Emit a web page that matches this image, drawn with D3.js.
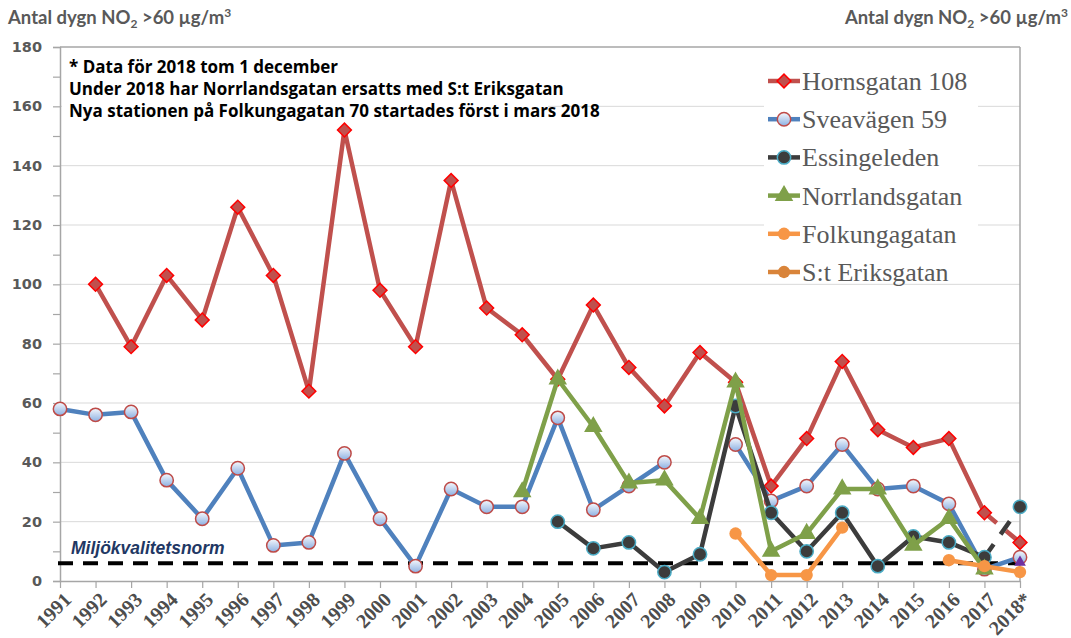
<!DOCTYPE html>
<html>
<head>
<meta charset="utf-8">
<script src="https://cdn.jsdelivr.net/npm/d3@7"></script>
<style>
  body { margin: 0; background: #fff; }
  svg { display: block; }
</style>
</head>
<body>
<div id="chart"></div>
<script>
// data (null = no value that year)
const years = ["1991", "1992", "1993", "1994", "1995", "1996", "1997", "1998", "1999", "2000",
  "2001", "2002", "2003", "2004", "2005", "2006", "2007", "2008", "2009", "2010",
  "2011", "2012", "2013", "2014", "2015", "2016", "2017", "2018*"];

const hornsgatan = [null, 100, 79, 103, 88, 126, 103, 64, 152, 98,
  79, 135, 92, 83, 68, 93, 72, 59, 77, 67,
  32, 48, 74, 51, 45, 48, 23, 13];

const sveavagen = [58, 56, 57, 34, 21, 38, 12, 13, 43, 21,
  5, 31, 25, 25, 55, 24, 32, 40, null, 46,
  27, 32, 46, 31, 32, 26, 4, 8];

const essingeleden = [null, null, null, null, null, null, null, null, null, null,
  null, null, null, null, 20, 11, 13, 3, 9, 59,
  23, 10, 23, 5, 15, 13, 8, 25];

const norrlandsgatan = [null, null, null, null, null, null, null, null, null, null,
  null, null, null, 30, 68, 52, 33, 34, 21, 67,
  10, 16, 31, 31, 12, 21, 4, null];

const folkungagatan = [null, null, null, null, null, null, null, null, null, null,
  null, null, null, null, null, null, null, null, null, 16,
  2, 2, 18, null, null, 7, 5, 3];

const stEriksgatan = years.map(() => null);

// extra purple marker at 2018*
const lilaMarkering = [{ year: "2018*", value: 7 }];

const normValue = 6;
const yTickValues = d3.range(0, 181, 10);

const titleLeft = "Antal dygn NO";
const notes = [
  "* Data för 2018 tom 1 december",
  "Under 2018 har Norrlandsgatan ersatts med S:t Eriksgatan",
  "Nya stationen på Folkungagatan 70 startades först i mars 2018",
];

const width = 1071, height = 638;
const plot = { left: 60, right: 1020, top: 47, bottom: 581 };

const svg = d3
  .select("#chart")
  .append("svg")
  .attr("width", width)
  .attr("height", height)
  .style("font-family", "'Liberation Sans', Arial, sans-serif");

const defs = svg.append("defs");
const grad = defs
  .append("linearGradient")
  .attr("id", "sveaGrad")
  .attr("x1", 0).attr("y1", 0).attr("x2", 0).attr("y2", 1);
grad.append("stop").attr("offset", "0%").attr("stop-color", "#f6f8fc");
grad.append("stop").attr("offset", "100%").attr("stop-color", "#8cb0e2");

const x = d3.scalePoint().domain(years).range([plot.left, plot.right]);
const y = d3.scaleLinear().domain([0, 180]).range([plot.bottom, plot.top]);

// gridlines every 20
svg
  .append("g")
  .selectAll("line")
  .data(d3.range(20, 181, 20))
  .join("line")
  .attr("x1", plot.left)
  .attr("x2", plot.right)
  .attr("y1", (d) => y(d))
  .attr("y2", (d) => y(d))
  .attr("stroke", (d) => (d === 180 ? "#a6a6a6" : "#d9d9d9"))
  .attr("stroke-width", (d) => (d === 180 ? 1.5 : 1));

// right border
svg
  .append("line")
  .attr("x1", plot.right)
  .attr("x2", plot.right)
  .attr("y1", y(180))
  .attr("y2", y(0))
  .attr("stroke", "#a6a6a6")
  .attr("stroke-width", 1.5);

// white text box and legend box cover the gridlines
svg.append("rect").attr("x", 62).attr("y", 50).attr("width", 486).attr("height", 78).attr("fill", "#fff");
svg.append("rect").attr("x", 764).attr("y", 50).attr("width", 214).attr("height", 233).attr("fill", "#fff");

// Y axis
const yAxis = d3
  .axisLeft(y)
  .tickValues(yTickValues)
  .tickSize(7)
  .tickPadding(11)
  .tickFormat((d) => (d % 20 === 0 ? d : ""));
const gy = svg.append("g").attr("transform", `translate(${plot.left},0)`).call(yAxis);
gy.select(".domain").attr("stroke", "#a6a6a6").attr("stroke-width", 1.5);
gy.selectAll(".tick line").attr("stroke", "#a6a6a6").attr("stroke-width", 1.2);
gy.selectAll(".tick text")
  .attr("fill", "#595959")
  .style("font-family", "'DejaVu Sans', Verdana, sans-serif")
  .style("font-weight", "bold")
  .style("font-size", "14.5px");

// X axis
const xAxis = d3.axisBottom(x).tickSize(7).tickSizeOuter(0);
const gx = svg.append("g").attr("transform", `translate(0,${plot.bottom})`).call(xAxis);
gx.select(".domain").attr("stroke", "#a6a6a6").attr("stroke-width", 1.5);
gx.selectAll(".tick line").attr("stroke", "#a6a6a6").attr("stroke-width", 1.2);
gx.selectAll(".tick text")
  .attr("x", 0)
  .attr("y", 0)
  .attr("dy", "0.35em")
  .attr("text-anchor", "end")
  .attr("transform", "translate(7,15) rotate(-45)")
  .attr("fill", "#4d4d4d")
  .style("font-family", "'Liberation Serif', 'Times New Roman', serif")
  .style("font-weight", "bold")
  .style("font-size", "20px");

// norm line
svg
  .append("line")
  .attr("x1", plot.left - 2)
  .attr("x2", plot.right)
  .attr("y1", y(normValue))
  .attr("y2", y(normValue))
  .attr("stroke", "#000")
  .attr("stroke-width", 4)
  .attr("stroke-dasharray", "15,10");

svg
  .append("text")
  .attr("x", 71)
  .attr("y", 554)
  .attr("fill", "#1f3864")
  .style("font-weight", "bold")
  .style("font-style", "italic")
  .style("font-size", "17.5px")
  .text("Miljökvalitetsnorm");

// series
const series = [
  { name: "Hornsgatan 108", values: hornsgatan, color: "#c0504d", symbol: "diamond", fill: "#c0504d", stroke: "#ff0000", dashLast: true },
  { name: "Sveavägen 59", values: sveavagen, color: "#4f81bd", symbol: "circle", fill: "url(#sveaGrad)", stroke: "#be4b48" },
  { name: "Essingeleden", values: essingeleden, color: "#3c3c3c", symbol: "circle", fill: "#3c3c3c", stroke: "#4bacc6", dashLast: true },
  { name: "Norrlandsgatan", values: norrlandsgatan, color: "#7fa049", symbol: "triangle", fill: "#7fa049", stroke: "#7fa049" },
  { name: "Folkungagatan", values: folkungagatan, color: "#f79646", symbol: "dot", fill: "#f79646", stroke: "none" },
  { name: "S:t Eriksgatan", values: stEriksgatan, color: "#d9843a", symbol: "dot", fill: "#d9843a", stroke: "none" },
];

function symbolPath(kind) {
  if (kind === "diamond") return d3.symbol(d3.symbolSquare, 96)();
  if (kind === "triangle") return d3.symbol(d3.symbolTriangle, 110)();
  if (kind === "dot") return d3.symbol(d3.symbolCircle, 120)();
  return d3.symbol(d3.symbolCircle, 140)();
}

function drawMarker(g, s, cx, cy) {
  g.append("path")
    .attr("d", symbolPath(s.symbol))
    .attr("transform", `translate(${cx},${cy})` + (s.symbol === "diamond" ? " rotate(45)" : ""))
    .attr("fill", s.fill)
    .attr("stroke", s.stroke)
    .attr("stroke-width", 1.5);
}

const line = d3
  .line()
  .defined((d) => d.value != null)
  .x((d) => x(d.year))
  .y((d) => y(d.value));

series.forEach((s) => {
  const pts = years.map((yr, i) => ({ year: yr, value: s.values[i] }));
  const g = svg.append("g");
  const solid = s.dashLast ? pts.slice(0, pts.length - 1) : pts;
  g.append("path")
    .attr("d", line(solid))
    .attr("fill", "none")
    .attr("stroke", s.color)
    .attr("stroke-width", 4.5)
    .attr("stroke-linejoin", "round");
  if (s.dashLast) {
    g.append("path")
      .attr("d", line(pts.slice(pts.length - 2)))
      .attr("fill", "none")
      .attr("stroke", s.color)
      .attr("stroke-width", 4.5)
      .attr("stroke-dasharray", "16,12");
  }
  pts.filter((d) => d.value != null).forEach((d) => drawMarker(g, s, x(d.year), y(d.value)));
});

// purple marker
lilaMarkering.forEach((d) => {
  svg
    .append("path")
    .attr("d", d3.symbol(d3.symbolTriangle, 60)())
    .attr("transform", `translate(${x(d.year)},${y(d.value) + 2})`)
    .attr("fill", "#7030a0");
});

// legend
const legend = svg.append("g").attr("transform", "translate(768,81)");
series.forEach((s, i) => {
  const row = legend.append("g").attr("transform", `translate(0,${i * 38.2})`);
  row.append("line").attr("x1", 0).attr("x2", 32).attr("stroke", s.color).attr("stroke-width", 4.5);
  drawMarker(row, s, 16, 0);
  row.append("text")
    .attr("x", 34)
    .attr("y", 9)
    .attr("fill", "#595959")
    .style("font-family", "'Liberation Serif', 'Times New Roman', serif")
    .style("font-size", "26px")
    .text(s.name);
});

// notes
svg
  .append("g")
  .selectAll("text")
  .data(notes)
  .join("text")
  .attr("x", 69)
  .attr("y", (d, i) => 73 + i * 22)
  .attr("fill", "#000")
  .style("font-family", "'Open Sans', Lato, sans-serif")
  .style("font-weight", "bold")
  .style("font-size", "17px")
  .text((d) => d);

// axis titles (left and right)
function axisTitle(xPos, anchor) {
  const t = svg
    .append("text")
    .attr("x", xPos)
    .attr("y", 24)
    .attr("text-anchor", anchor)
    .attr("fill", "#595959")
    .style("font-family", "Lato, 'Open Sans', sans-serif")
    .style("font-weight", "bold")
    .style("font-size", "18.5px");
  t.append("tspan").text(titleLeft);
  t.append("tspan").attr("dy", 4).style("font-size", "12px").text("2");
  t.append("tspan").attr("dy", -4).text(" >60 µg/m");
  t.append("tspan").attr("dy", -7).style("font-size", "12px").text("3");
}
axisTitle(8, "start");
axisTitle(1068, "end");
</script>
</body>
</html>
